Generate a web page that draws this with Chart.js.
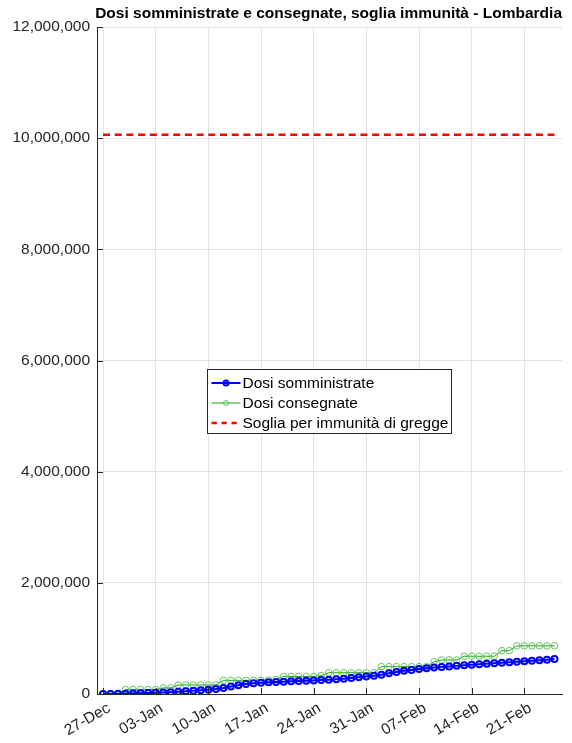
<!DOCTYPE html>
<html>
<head>
<meta charset="utf-8">
<script src="https://cdn.jsdelivr.net/npm/chart.js@4/dist/chart.umd.min.js"></script>
<style>
  body { margin: 0; background: #fff; }
</style>
</head>
<body>
<canvas id="chart" width="572" height="743"></canvas>
<script>
// one value per day, 27-Dec .. 25-Feb
const somministrate = [
    1000, 2000, 3000, 5000, 8000, 12000, 16000, 21000, 27000, 33000,
    41000, 49000, 58000, 68000, 78000, 90000, 108000, 135000, 158000, 178000,
    192000, 203000, 210000, 216000, 222000, 228000, 233000, 237000, 242000, 250000,
    258000, 266000, 276000, 288000, 300000, 313000, 330000, 348000, 372000, 396000,
    418000, 432000, 448000, 462000, 476000, 488000, 496000, 506000, 516000, 526000,
    534000, 544000, 552000, 562000, 570000, 580000, 588000, 598000, 606000, 616000,
    630000
];
const consegnate = [
    1600, 1600, 1600, 80000, 80000, 80000, 80000, 80000, 110000, 110000,
    162000, 162000, 162000, 162000, 162000, 162000, 245000, 245000, 245000, 245000,
    245000, 245000, 252000, 258000, 315000, 315000, 315000, 315000, 315000, 330000,
    383000, 383000, 383000, 383000, 383000, 383000, 383000, 492000, 492000, 492000,
    492000, 492000, 492000, 492000, 580000, 612000, 612000, 612000, 680000, 680000,
    680000, 680000, 680000, 780000, 780000, 866000, 866000, 866000, 866000, 866000,
    866000
];
const sogliaImmunita = 10060000;
const tickLabels = ['27-Dec', '03-Jan', '10-Jan', '17-Jan', '24-Jan', '31-Jan', '07-Feb', '14-Feb', '21-Feb'];

const FONT = "'Liberation Sans', Arial, Helvetica, sans-serif";
const toPts = arr => arr.map((v, i) => ({x: i, y: v}));

// MATLAB style: tick marks pointing into the plot
const innerTicks = {
    id: 'innerTicks',
    afterDraw(chart) {
        const ctx = chart.ctx, a = chart.chartArea;
        const xs = chart.scales.x, ys = chart.scales.y;
        ctx.save();
        ctx.strokeStyle = '#262626';
        ctx.lineWidth = 1;
        ctx.beginPath();
        xs.ticks.forEach(t => {
            const px = Math.round(xs.getPixelForValue(t.value)) + 0.5;
            ctx.moveTo(px, a.bottom);
            ctx.lineTo(px, a.bottom - 6);
        });
        ys.ticks.forEach(t => {
            const py = Math.round(ys.getPixelForValue(t.value)) + 0.5;
            ctx.moveTo(a.left, py);
            ctx.lineTo(a.left + 6, py);
        });
        ctx.stroke();
        ctx.restore();
    }
};

// boxed legend in the middle of the axes
const boxLegend = {
    id: 'boxLegend',
    afterDraw(chart) {
        const ctx = chart.ctx;
        const x0 = 207.5, y0 = 369.5, w = 244, h = 64;
        ctx.save();
        ctx.fillStyle = '#fff';
        ctx.fillRect(x0, y0, w, h);
        ctx.strokeStyle = '#262626';
        ctx.lineWidth = 1;
        ctx.strokeRect(x0, y0, w, h);
        ctx.font = '15.5px ' + FONT;
        ctx.textBaseline = 'middle';
        chart.data.datasets.forEach((ds, i) => {
            const y = y0 + 13.5 + i * 20;
            ctx.strokeStyle = ds.borderColor;
            ctx.lineWidth = ds.borderWidth;
            ctx.setLineDash(ds.borderDash ? [5.3, 4.7] : []);
            ctx.beginPath();
            ctx.moveTo(x0 + 4, y);
            ctx.lineTo(x0 + 33, y);
            ctx.stroke();
            ctx.setLineDash([]);
            if (ds.pointRadius > 0) {
                ctx.strokeStyle = ds.pointBorderColor;
                ctx.lineWidth = ds.pointBorderWidth;
                ctx.beginPath();
                ctx.arc(x0 + 18.5, y, 2.5, 0, Math.PI * 2);
                ctx.stroke();
            }
            ctx.fillStyle = '#000';
            ctx.fillText(ds.label, x0 + 35, y + 0.5);
        });
        ctx.restore();
    }
};

new Chart(document.getElementById('chart'), {
    type: 'line',
    data: {
        datasets: [{
            label: 'Dosi somministrate',
            data: toPts(somministrate),
            borderColor: '#0000ff',
            borderWidth: 2,
            pointRadius: 3,
            pointBorderWidth: 2,
            pointBorderColor: '#0000ff',
            pointBackgroundColor: 'rgba(0,0,0,0)',
            tension: 0
        }, {
            label: 'Dosi consegnate',
            data: toPts(consegnate),
            borderColor: '#1f9e1f',
            borderWidth: 1,
            pointRadius: 3.3,
            pointBorderWidth: 1,
            pointBorderColor: '#5cc85c',
            pointBackgroundColor: 'rgba(0,0,0,0)',
            tension: 0
        }, {
            label: 'Soglia per immunità di gregge',
            data: toPts(somministrate.map(() => sogliaImmunita)),
            borderColor: '#ff0000',
            borderWidth: 2.5,
            borderDash: [7, 4.7],
            pointRadius: 0
        }]
    },
    options: {
        responsive: false,
        animation: false,
        events: [],
        layout: { padding: { left: 0, right: 10, top: 0, bottom: 0 } },
        scales: {
            x: {
                type: 'linear',
                min: -0.8,
                max: 61,
                afterBuildTicks: s => { s.ticks = tickLabels.map((_, i) => ({value: i * 7})); },
                afterFit: s => { s.height = 49; },
                grid: { color: '#e3e3e3', drawTicks: false },
                border: { color: '#262626', width: 1 },
                ticks: {
                    autoSkip: false,
                    minRotation: 30,
                    maxRotation: 30,
                    padding: 5,
                    labelOffset: 6,
                    color: '#262626',
                    font: { family: FONT, size: 15.5 },
                    callback: v => tickLabels[Math.round(v / 7)]
                }
            },
            y: {
                min: 0,
                max: 12000000,
                afterFit: s => { s.width = 97; },
                grid: { color: '#e3e3e3', drawTicks: false },
                border: { color: '#262626', width: 1 },
                ticks: {
                    stepSize: 2000000,
                    padding: 7,
                    color: '#262626',
                    font: { family: FONT, size: 15.5 },
                    callback: v => v.toLocaleString('en-US')
                }
            }
        },
        plugins: {
            legend: { display: false },
            tooltip: { enabled: false },
            title: {
                display: true,
                text: 'Dosi somministrate e consegnate, soglia immunità - Lombardia',
                align: 'end',
                color: '#000',
                font: { family: FONT, size: 15.5, weight: 'bold' },
                padding: { top: 4, bottom: 4.4 }
            }
        }
    },
    plugins: [innerTicks, boxLegend]
});
</script>
</body>
</html>
